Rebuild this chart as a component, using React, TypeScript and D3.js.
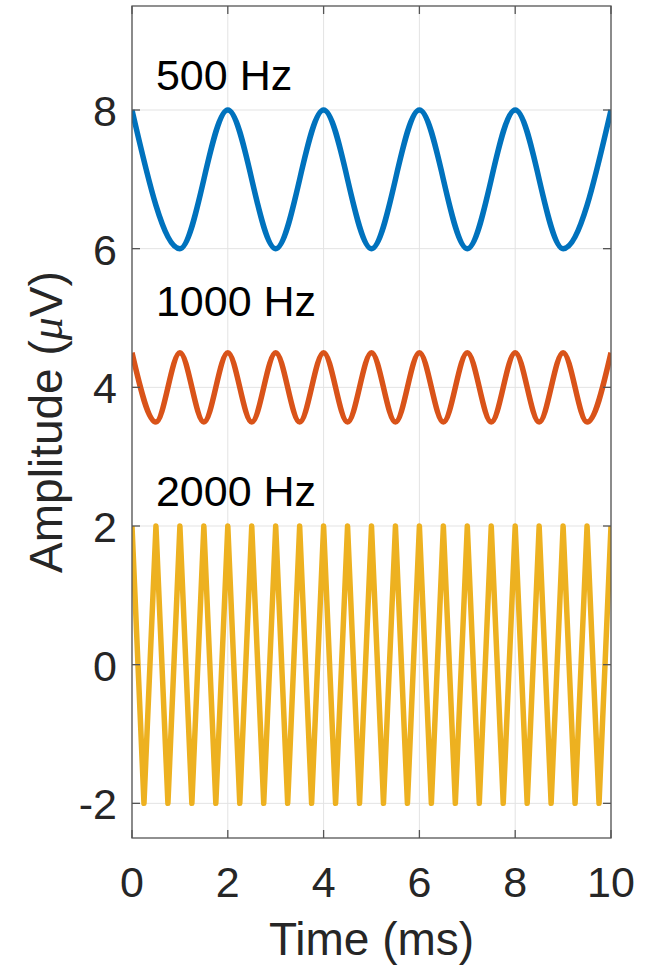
import React from "react";
import * as d3 from "d3";

// Extrema of each trace (time in ms, amplitude in µV)
const t500 = [0, 1, 2, 3, 4, 5, 6, 7, 8, 9, 10];
const v500 = [8, 6, 8, 6, 8, 6, 8, 6, 8, 6, 8];

const t1000 = [0, 0.5, 1, 1.5, 2, 2.5, 3, 3.5, 4, 4.5, 5, 5.5, 6, 6.5, 7, 7.5, 8, 8.5, 9, 9.5, 10];
const v1000 = [4.5, 3.5, 4.5, 3.5, 4.5, 3.5, 4.5, 3.5, 4.5, 3.5, 4.5, 3.5, 4.5, 3.5, 4.5, 3.5, 4.5, 3.5, 4.5, 3.5, 4.5];

const t2000 = [0, 0.25, 0.5, 0.75, 1, 1.25, 1.5, 1.75, 2, 2.25, 2.5, 2.75, 3, 3.25, 3.5, 3.75, 4, 4.25, 4.5, 4.75, 5,
  5.25, 5.5, 5.75, 6, 6.25, 6.5, 6.75, 7, 7.25, 7.5, 7.75, 8, 8.25, 8.5, 8.75, 9, 9.25, 9.5, 9.75, 10];
const v2000 = [2, -2, 2, -2, 2, -2, 2, -2, 2, -2, 2, -2, 2, -2, 2, -2, 2, -2, 2, -2, 2,
  -2, 2, -2, 2, -2, 2, -2, 2, -2, 2, -2, 2, -2, 2, -2, 2, -2, 2, -2, 2];

const seriesNames = ["500 Hz", "1000 Hz", "2000 Hz"];
const labelY = [8.5, 5.25, 2.5];
const xTicks = [0, 2, 4, 6, 8, 10];
const yTicks = [-2, 0, 2, 4, 6, 8];
const colors = ["#0072BD", "#D95319", "#EDB120"];

const W = 646;
const H = 966;
const L = 132, R = 611, T = 6, B = 838;
const FONT = "Arial, 'Liberation Sans', Helvetica, sans-serif";
const TXT = "#262626";
const AX = "#555555";

export default function App() {
  const x = d3.scaleLinear().domain([0, 10]).range([L, R]);
  const y = d3.scaleLinear().domain([-2.5, 9.5]).range([B, T]);
  const smooth = d3
    .line<[number, number]>()
    .x((d) => x(d[0]))
    .y((d) => y(d[1]))
    .curve(d3.curveMonotoneX);
  const straight = d3
    .line<[number, number]>()
    .x((d) => x(d[0]))
    .y((d) => y(d[1]));

  const series: [number, number][][] = [
    t500.map((t, i) => [t, v500[i]]),
    t1000.map((t, i) => [t, v1000[i]]),
    t2000.map((t, i) => [t, v2000[i]]),
  ];
  const gens = [smooth, smooth, straight];
  const tickLen = 8;

  return (
    <svg width={W} height={H} style={{ position: "absolute", left: 0, top: 0, background: "#fff" }}>
      <defs>
        <clipPath id="plotclip">
          <rect x={L} y={T} width={R - L} height={B - T} />
        </clipPath>
      </defs>
      <rect x={0} y={0} width={W} height={H} fill="#fff" />
      {/* grid */}
      <g stroke="#e3e3e3" strokeWidth={1}>
        {xTicks.map((t) => (
          <line key={"gx" + t} x1={x(t)} x2={x(t)} y1={T} y2={B} />
        ))}
        {yTicks.map((t) => (
          <line key={"gy" + t} x1={L} x2={R} y1={y(t)} y2={y(t)} />
        ))}
      </g>
      {/* data */}
      <g clipPath="url(#plotclip)" fill="none" strokeWidth={5.5} strokeLinejoin="round">
        {series.map((s, i) => (
          <path key={i} d={gens[i](s) || ""} stroke={colors[i]} />
        ))}
      </g>
      {/* box and ticks */}
      <g stroke={AX} strokeWidth={1.3} fill="none">
        <rect x={L} y={T} width={R - L} height={B - T} />
        {xTicks.map((t) => (
          <g key={"tx" + t}>
            <line x1={x(t)} x2={x(t)} y1={B} y2={B - tickLen} />
            <line x1={x(t)} x2={x(t)} y1={T} y2={T + tickLen} />
          </g>
        ))}
        {yTicks.map((t) => (
          <g key={"ty" + t}>
            <line x1={L} x2={L + tickLen} y1={y(t)} y2={y(t)} />
            <line x1={R} x2={R - tickLen} y1={y(t)} y2={y(t)} />
          </g>
        ))}
      </g>
      {/* tick labels */}
      <g fontFamily={FONT} fontSize={43} fill={TXT}>
        {xTicks.map((t) => (
          <text key={"lx" + t} x={x(t)} y={897} textAnchor="middle">
            {t}
          </text>
        ))}
        {yTicks.map((t) => (
          <text key={"ly" + t} x={L - 15} y={y(t) + 16} textAnchor="end">
            {t}
          </text>
        ))}
      </g>
      {/* annotations */}
      <g fontFamily={FONT} fontSize={43} fill="#000">
        {seriesNames.map((n, i) => (
          <text key={n} x={x(0.5)} y={y(labelY[i]) + 15}>
            {n}
          </text>
        ))}
      </g>
      {/* axis labels */}
      <text x={(L + R) / 2} y={955} textAnchor="middle" fontFamily={FONT} fontSize={46} fill={TXT}>
        Time (ms)
      </text>
      <text
        transform={`translate(62, ${(T + B) / 2}) rotate(-90)`}
        textAnchor="middle"
        fontFamily={FONT}
        fontSize={46}
        fill={TXT}
      >
        Amplitude (
        <tspan fontFamily="'Liberation Serif', 'DejaVu Serif', serif" fontStyle="italic">
          μ
        </tspan>
        V)
      </text>
    </svg>
  );
}
